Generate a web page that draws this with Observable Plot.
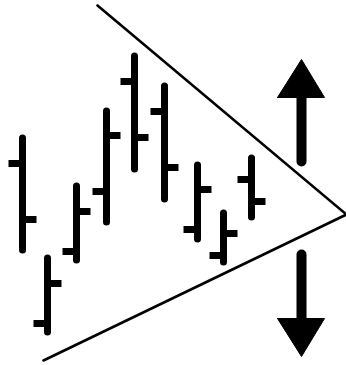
<!DOCTYPE html>
<html>
<head>
<meta charset="utf-8">
<script src="https://cdn.jsdelivr.net/npm/d3@7"></script>
<script src="https://cdn.jsdelivr.net/npm/@observablehq/plot@0.6"></script>
<style>
  html, body { margin: 0; padding: 0; background: #fff; }
  #chart svg { display: block; }
</style>
</head>
<body>
<div id="chart"></div>
<script>
// OHLC bars (x = time position, prices in chart units)
const barTime  = [22, 47, 76, 106, 134, 164, 197, 223, 251];
const barHigh  = [227, 107, 179, 254, 309, 279, 200, 152, 207];
const barLow   = [115, 33, 105, 143, 196, 166, 126, 103, 148];
const barOpen  = [202, 42, 114, 174, 284, 254, 136, 110, 186];
const barClose = [146, 82, 154, 230, 228, 198, 176, 132, 164];

// Converging trendlines (time, price)
const upperLineT = [97, 346];
const upperLineP = [360, 151];
const lowerLineT = [43, 346];
const lowerLineP = [5, 151];

// Breakout arrows: shaft and head
const upShaftT = [301, 301];
const upShaftP = [204, 270];
const upHeadT  = [277, 301, 324, 277];
const upHeadP  = [268, 306, 268, 268];
const downShaftT = [301, 301];
const downShaftP = [111, 45];
const downHeadT  = [277, 301, 324, 277];
const downHeadP  = [47, 9, 47, 47];

const tickLen = 14;

const bars = barTime.map((t, i) => ({t, high: barHigh[i], low: barLow[i], open: barOpen[i], close: barClose[i]}));
const toPts = (ts, ps, id) => ts.map((t, i) => ({t, p: ps[i], id}));
const trend = [...toPts(upperLineT, upperLineP, "upper"), ...toPts(lowerLineT, lowerLineP, "lower")];
const shafts = [...toPts(upShaftT, upShaftP, "up"), ...toPts(downShaftT, downShaftP, "down")];
const heads = [...toPts(upHeadT, upHeadP, "up"), ...toPts(downHeadT, downHeadP, "down")];

const chart = Plot.plot({
  width: 346,
  height: 365,
  margin: 0,
  x: {domain: [0, 346], axis: null},
  y: {domain: [0, 365], axis: null},
  marks: [
    Plot.line(trend, {x: "t", y: "p", z: "id", stroke: "black", strokeWidth: 2.6}),
    Plot.ruleX(bars, {x: "t", y1: "low", y2: "high", stroke: "black", strokeWidth: 7, strokeLinecap: "round"}),
    Plot.link(bars, {x1: d => d.t - tickLen, x2: "t", y1: "open", y2: "open", stroke: "black", strokeWidth: 7}),
    Plot.link(bars, {x1: "t", x2: d => d.t + tickLen, y1: "close", y2: "close", stroke: "black", strokeWidth: 7}),
    Plot.line(shafts, {x: "t", y: "p", z: "id", stroke: "black", strokeWidth: 10}),
    Plot.line(heads, {x: "t", y: "p", z: "id", fill: "black", stroke: "black", strokeWidth: 1})
  ]
});
document.getElementById("chart").appendChild(chart);
</script>
</body>
</html>
